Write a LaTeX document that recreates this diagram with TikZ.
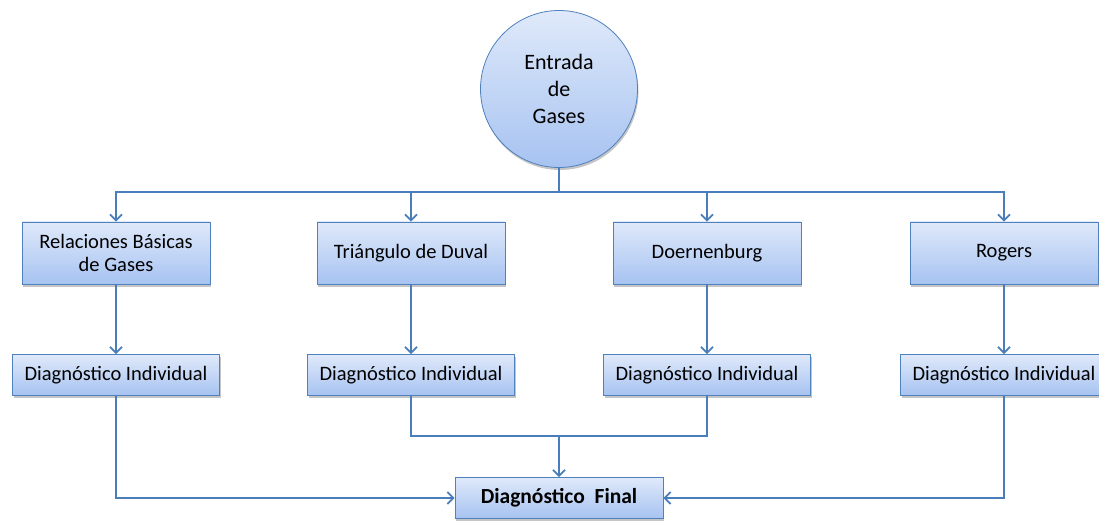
\documentclass[tikz,border=0pt]{standalone}
\usepackage{fontspec}
\setmainfont{Carlito}
\usetikzlibrary{arrows.meta,shadows}
\definecolor{borde}{HTML}{4F81BD}
\definecolor{linea}{HTML}{4A7EBB}
\definecolor{claro}{HTML}{DFE9FA}
\definecolor{oscuro}{HTML}{A7C3F1}
\tikzset{
  caja/.style={draw=borde, line width=0.8pt, top color=claro, bottom color=oscuro,
    inner sep=0pt, align=center, font=\fontsize{20.5}{23}\selectfont,
    drop shadow={shadow xshift=1pt, shadow yshift=-2.5pt, fill=black!45}},
  metodo/.style={caja, minimum width=188pt, minimum height=62pt},
  diag/.style={caja, minimum width=207pt, minimum height=41pt},
  flecha/.style={draw=linea, line width=2.1pt, -{Straight Barb[length=6pt,width=12pt,line width=1.8pt]}},
  linea/.style={draw=linea, line width=2.1pt}
}
\begin{document}
\begin{tikzpicture}[x=1pt,y=-1pt]
  %%%%% START %%%%%
  \useasboundingbox (0,0) rectangle (1099,521);

  \node[caja, circle, minimum size=157pt, font=\fontsize{22}{27}\selectfont] (gas) at (559,89) {Entrada\\de\\Gases};

  \node[metodo] (rel) at (116,253) {Relaciones Básicas\\de Gases};
  \node[metodo] (duv) at (411,253) {Triángulo de Duval};
  \node[metodo] (doe) at (707,253) {Doernenburg};
  \node[metodo] (rog) at (1004,253) {Rogers};

  \node[diag] (di1) at (116,375) {Diagnóstico Individual};
  \node[diag] (di2) at (411,375) {Diagnóstico Individual};
  \node[diag] (di3) at (707,375) {Diagnóstico Individual};
  \node[diag] (di4) at (1004,375) {Diagnóstico Individual};

  \node[diag, minimum width=208pt, font=\fontsize{21.5}{24}\selectfont\bfseries] (fin) at (559,498) {Diagnóstico~ Final};

  \coordinate (bus) at (559,192);
  \coordinate (union) at (559,436);

  % entrada hacia los metodos
  \draw[linea] (gas.south) -- (bus);
  \draw[flecha] (bus) -| (rel.north);
  \draw[flecha] (bus) -| (duv.north);
  \draw[flecha] (bus) -| (doe.north);
  \draw[flecha] (bus) -| (rog.north);

  % metodos hacia diagnostico individual
  \draw[flecha] (rel.south) -- (di1.north);
  \draw[flecha] (duv.south) -- (di2.north);
  \draw[flecha] (doe.south) -- (di3.north);
  \draw[flecha] (rog.south) -- (di4.north);

  % diagnostico final
  \draw[linea] (di2.south) |- (union) -| (di3.south);
  \draw[flecha] (union) -- (fin.north);
  \draw[flecha] (di1.south) |- (fin.west);
  \draw[flecha] (di4.south) |- (fin.east);

  %%%%% END %%%%%
\end{tikzpicture}
\end{document}
